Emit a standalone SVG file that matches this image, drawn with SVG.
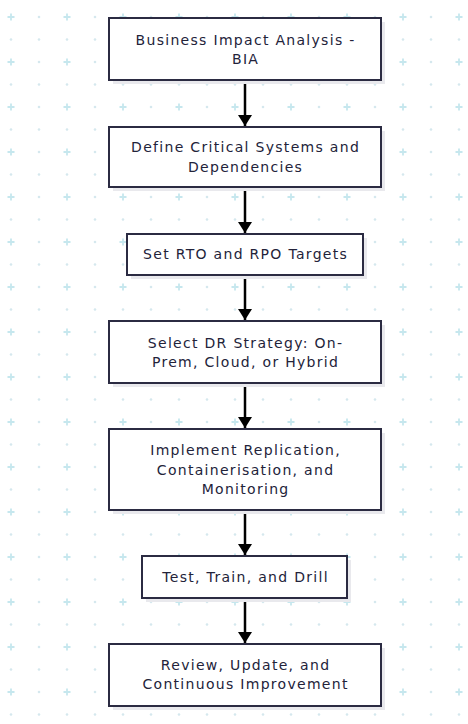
<svg xmlns="http://www.w3.org/2000/svg" width="468" height="724" viewBox="0 0 468 724">
<defs>
<pattern id="bg" x="0" y="0" width="56" height="45" patternUnits="userSpaceOnUse">
<path d="M11 13.5v7M7.5 17h7" stroke="#c6e7ee" stroke-width="1.8"/>
<circle cx="39" cy="17" r="1.3" fill="#d5e8ee"/>
<circle cx="11" cy="39.5" r="1.3" fill="#d5e8ee"/>
<circle cx="39" cy="39.5" r="1.3" fill="#d5e8ee"/>
</pattern>
<marker id="ah" markerWidth="11" markerHeight="14" refX="11" refY="7" orient="auto" markerUnits="userSpaceOnUse">
<path d="M0 0L11 7L0 14z" fill="#000"/>
</marker>
</defs>
<style>
.box{fill:#fff;stroke:#2b2b42;stroke-width:2}
.sh{fill:#e9e9ed}
.t{font-family:"DejaVu Sans",sans-serif;font-size:14px;letter-spacing:1.3px;fill:#23233a;text-anchor:middle}
.c{stroke:#000;stroke-width:2.5;fill:none}
</style>
<rect width="468" height="724" fill="#fff"/>
<rect width="468" height="724" fill="url(#bg)"/>
<g id="connectors">
<path class="c" d="M245 80V126" marker-end="url(#ah)"/>
<path class="c" d="M245 187V233" marker-end="url(#ah)"/>
<path class="c" d="M245 275V320" marker-end="url(#ah)"/>
<path class="c" d="M245 383V428" marker-end="url(#ah)"/>
<path class="c" d="M245 510V555" marker-end="url(#ah)"/>
<path class="c" d="M245 598V643" marker-end="url(#ah)"/>
</g>
<g id="n1">
<rect class="sh" x="113" y="22" width="272" height="62"/>
<rect class="box" x="109" y="18" width="272" height="62"/>
<text class="t" x="245.6" y="45">Business Impact Analysis -</text>
<text class="t" x="245.6" y="64">BIA</text>
</g>
<g id="n2">
<rect class="sh" x="113" y="131" width="272" height="60"/>
<rect class="box" x="109" y="127" width="272" height="60"/>
<text class="t" x="245.6" y="152">Define Critical Systems and</text>
<text class="t" x="245.6" y="172">Dependencies</text>
</g>
<g id="n3">
<rect class="sh" x="131" y="238" width="236" height="41"/>
<rect class="box" x="127" y="234" width="236" height="41"/>
<text class="t" x="245.6" y="259">Set RTO and RPO Targets</text>
</g>
<g id="n4">
<rect class="sh" x="113" y="325" width="272" height="62"/>
<rect class="box" x="109" y="321" width="272" height="62"/>
<text class="t" x="245.6" y="348">Select DR Strategy: On-</text>
<text class="t" x="245.6" y="367">Prem, Cloud, or Hybrid</text>
</g>
<g id="n5">
<rect class="sh" x="113" y="433" width="272" height="81"/>
<rect class="box" x="109" y="429" width="272" height="81"/>
<text class="t" x="245.6" y="455">Implement Replication,</text>
<text class="t" x="245.6" y="475">Containerisation, and</text>
<text class="t" x="245.6" y="494">Monitoring</text>
</g>
<g id="n6">
<rect class="sh" x="146" y="560" width="205" height="42"/>
<rect class="box" x="142" y="556" width="205" height="42"/>
<text class="t" x="245.6" y="582">Test, Train, and Drill</text>
</g>
<g id="n7">
<rect class="sh" x="113" y="648" width="272" height="62"/>
<rect class="box" x="109" y="644" width="272" height="62"/>
<text class="t" x="245.6" y="670">Review, Update, and</text>
<text class="t" x="245.6" y="689">Continuous Improvement</text>
</g>
</svg>
